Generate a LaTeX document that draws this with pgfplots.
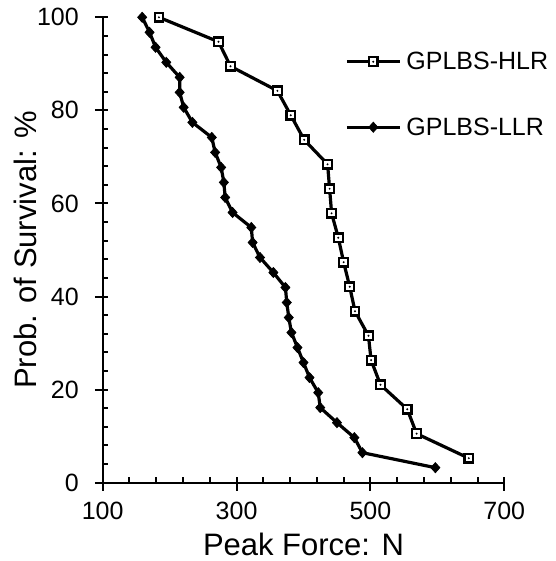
\documentclass[border=0pt]{standalone}
\usepackage{fontspec}
\setmainfont{Liberation Sans}
\usepackage{pgfplots}
\pgfplotsset{compat=1.18}
\pgfdeclareplotmark{sqdot}{%
  \pgfpathrectangle{\pgfqpoint{-\pgfplotmarksize}{-\pgfplotmarksize}}{\pgfqpoint{2\pgfplotmarksize}{2\pgfplotmarksize}}%
  \pgfusepathqfillstroke
  \pgfscope
  \pgfsetfillcolor{black}%
  \pgfpathcircle{\pgfpointorigin}{1.1pt}%
  \pgfusepathqfill
  \endpgfscope
}
\pgfdeclareplotmark{dia}{%
  \pgfpathmoveto{\pgfqpoint{0pt}{\pgfplotmarksize}}%
  \pgfpathlineto{\pgfqpoint{0.9\pgfplotmarksize}{0pt}}%
  \pgfpathlineto{\pgfqpoint{0pt}{-\pgfplotmarksize}}%
  \pgfpathlineto{\pgfqpoint{-0.9\pgfplotmarksize}{0pt}}%
  \pgfpathclose
  \pgfusepathqfillstroke
}
\begin{document}
\begin{tikzpicture}
\begin{axis}[
  scale only axis, width=401.6pt, height=465.4pt,
  xmin=100, xmax=700, ymin=0, ymax=100,
  clip=false,
  axis lines*=left,
  axis line style={line width=2pt},
  xtick={100,300,500,700}, ytick={0,20,40,60,80,100},
  minor x tick num=4, minor y tick num=4,
  tick align=inside,
  major tick length=13.3pt, minor tick length=5.6pt,
  tick style={line width=2pt, black},
  every major x tick/.append style={yshift=-8pt},
  every major y tick/.append style={xshift=-7.7pt},
  /pgf/number format/assume math mode=true,
  tick label style={font=\fontsize{25}{30}\selectfont, inner sep=0pt},
  xticklabel style={anchor=north, yshift=-19pt},
  yticklabel style={anchor=east, xshift=-23.7pt},
  xlabel={Peak Force: N}, ylabel={Prob. of Survival: \%},
  label style={font=\fontsize{31}{36}\selectfont, inner sep=0pt},
  xlabel style={at={(axis description cs:0.5,-0.1570)}, anchor=base},
  ylabel style={at={(axis description cs:-0.1624,0.5)}, anchor=south},
  legend style={draw=none, fill=none, at={(axis description cs:0.6033,0.9254)}, anchor=north west,
    font=\fontsize{25}{30}\selectfont, inner sep=0pt, row sep=46.6pt, column sep=5pt, nodes={inner sep=0pt}},
  legend cell align=left,
  legend image code/.code={\draw[#1,mark=none] (0pt,0pt) -- (53pt,0pt); \draw[#1] plot coordinates {(26.5pt,0pt)};},
]
\addplot[black, line width=3.2pt, mark=sqdot, mark size=4.3pt, mark options={solid, fill=white, line width=2.2pt}] coordinates {
(184,100) (273,94.74) (291,89.47) (361,84.21) (381,78.95) (401,73.68) (436,68.42) (439,63.16) (442,57.89) (452,52.63)
(460,47.37) (469,42.11) (477,36.84) (497,31.58) (501,26.32) (515,21.05) (555,15.79) (569,10.53) (647,5.26)
};
\addlegendentry{GPLBS-HLR}
\addplot[black, line width=3.2pt, mark=dia, mark size=5pt, mark options={solid, fill=black, line width=0.8pt}] coordinates {
(159,100) (170,96.77) (179,93.55) (195,90.32) (215,87.10) (215,83.87) (221,80.65) (234,77.42) (263,74.19) (268,70.97)
(277,67.74) (281,64.52) (283,61.29) (294,58.06) (322,54.84) (324,51.61) (335,48.39) (355,45.16) (373,41.94) (375,38.71)
(378,35.48) (382,32.26) (391,29.03) (400,25.81) (409,22.58) (422,19.35) (425,16.13) (450,12.90) (476,9.68) (488,6.45)
(597,3.23)
};
\addlegendentry{GPLBS-LLR}
\end{axis}
\pgfresetboundingbox
\path[use as bounding box] (-102.7pt,-78.3pt) rectangle (452.3pt,482.7pt);
\end{tikzpicture}
\end{document}
